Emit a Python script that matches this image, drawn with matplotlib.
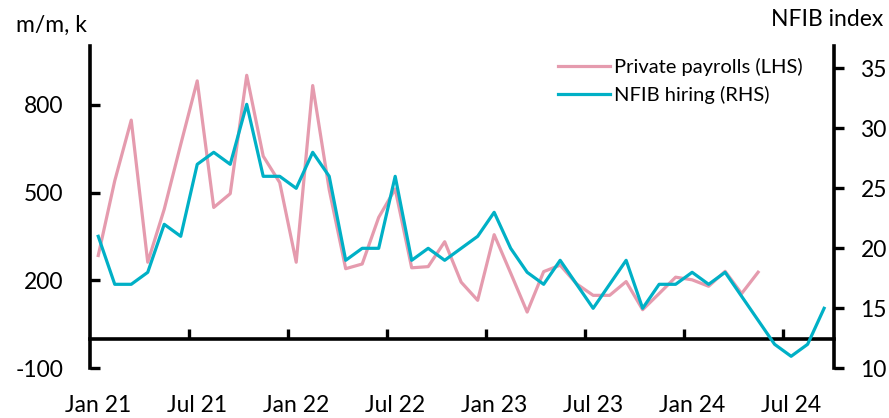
import numpy as np
import matplotlib.pyplot as plt

plt.rcParams['font.family'] = ['Lato', 'DejaVu Sans']
plt.rcParams['axes.unicode_minus'] = False

# monthly, Jan 21 onwards
payrolls = [285, 540, 747, 262, 443, 664, 881, 449, 496, 900, 624, 534,
            262, 865, 510, 240, 256, 415, 512, 243, 247, 332, 194, 132,
            356, 225, 92, 230, 252, 188, 149, 149, 196, 100, 155, 211,
            202, 180, 231, 155, 228]
nfib = [21, 17, 17, 18, 22, 21, 27, 28, 27, 32, 26, 26,
        25, 28, 26, 19, 20, 20, 26, 19, 20, 19, 20, 21,
        23, 20, 18, 17, 19, 17, 15, 17, 19, 15, 17, 17,
        18, 17, 18, 16, 14, 12, 11, 12, 15]
tick_labels = ['Jan 21', 'Jul 21', 'Jan 22', 'Jul 22', 'Jan 23', 'Jul 23', 'Jan 24', 'Jul 24']

pink = '#E59BAE'
cyan = '#00B0C6'
fs = 16.5

fig = plt.figure(figsize=(8.89, 4.18), dpi=100)
ax = fig.add_axes([90 / 889, (418 - 368.3) / 418, (834 - 90) / 889, (368.3 - 46) / 418])
ax2 = ax.twinx()

x_p = np.arange(len(payrolls))
x_n = np.arange(len(nfib))
ax.plot(x_p, payrolls, color=pink, lw=2.3, label='Private payrolls (LHS)')
ax2.plot(x_n, nfib, color=cyan, lw=2.3, label='NFIB hiring (RHS)')

ax.set_xlim(-0.5, 44.6)
ax.set_ylim(-100, 1000)
ax2.set_ylim(10, 36.86)

ax.set_yticks([-100, 200, 500, 800])
ax2.set_yticks([10, 15, 20, 25, 30, 35])

# x axis sits on zero; boundary ticks as minor, labels centred on months
ax.spines['bottom'].set_position(('data', 0))
ax.spines['bottom'].set_linewidth(2.6)
ax.set_xticks(np.arange(0, 45, 6))
ax.set_xticklabels(tick_labels)
ax.set_xticks(np.arange(5.5, 44, 6), minor=True)
ax.tick_params(axis='x', which='major', length=0, pad=40, labelsize=fs)
ax.tick_params(axis='x', which='minor', direction='in', length=7, width=2.4)

for s in ['top', 'right']:
    ax.spines[s].set_visible(False)
for s in ['top', 'left', 'bottom']:
    ax2.spines[s].set_visible(False)
ax.spines['left'].set_linewidth(2.6)
ax2.spines['right'].set_linewidth(2.6)

ax.tick_params(axis='y', direction='in', length=7, width=2.4, pad=19, labelsize=fs)
ax2.tick_params(axis='y', direction='out', length=7, width=2.4, pad=12, labelsize=fs)

fig.text(16 / 889, 1 - 25 / 418, 'm/m, k', fontsize=fs, ha='left', va='center')
fig.text(883 / 889, 1 - 19 / 418, 'NFIB index', fontsize=fs, ha='right', va='center')

h1, l1 = ax.get_legend_handles_labels()
h2, l2 = ax2.get_legend_handles_labels()
ax2.legend(h1 + h2, l1 + l2, loc='upper left', bbox_to_anchor=(550 / 889, 1 - 50 / 418),
           bbox_transform=fig.transFigure, frameon=False, fontsize=14.5,
           handlelength=2.6, handletextpad=0.2, labelspacing=0.5, borderaxespad=0)

fig.savefig('out.png', dpi=100)
